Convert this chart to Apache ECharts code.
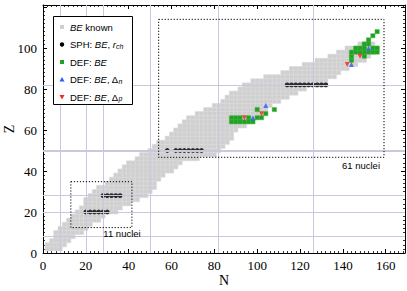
<!DOCTYPE html>
<html><head><meta charset="utf-8">
<script src="https://cdn.jsdelivr.net/npm/echarts@6/dist/echarts.min.js"></script>
<style>html,body{margin:0;padding:0;background:#fff}#c{width:407px;height:291px}</style>
</head><body><div id="c"></div><script>
// ---- data ----
const xTickStep = 20, yTickStep = 20;
const magicN = [8, 20, 28, 50, 82, 126];
const magicZ = [8, 20, 28, 50, 82];
// known binding energies (even-even), one row per Z: N range
const knownZ    = [2,4,6,8,10,12,14,16,18,20,22,24,26,28,30,32,34,36,38,40,42,44,46,48,50,52,54,56,58,60,62,64,66,68,70,72,74,76,78,80,82,84,86,88,90,92,94,96,98,100,102];
const knownNmin = [2,2,4,6,6,8,10,12,14,16,18,20,20,22,24,26,30,32,34,36,38,40,44,46,50,52,54,58,60,62,64,66,68,72,76,80,84,86,88,92,94,98,104,112,116,122,128,134,138,142,148];
const knownNmax = [8,10,12,14,18,20,22,26,28,34,36,40,44,48,50,52,52,54,56,60,62,64,72,80,82,84,86,88,88,90,94,96,98,102,104,106,110,114,118,122,132,132,136,138,142,146,150,152,154,156,154];
// spherical: BE and charge radius
const sphN = [20,22,24,26,28,30, 28,30,32,34,36, 58,62,64,66,68,70,72,74, 114,116,118,120,122,124,126,128,130,132];
const sphZ = [20,20,20,20,20,20, 28,28,28,28,28, 50,50,50,50,50,50,50,50, 82,82,82,82,82,82,82,82,82,82];
// deformed: BE
const defN = [88,90,92,94,96,98, 88,90,92,96,100,102, 104, 100,108, 144, 144,150, 144,146,148,150,152,154,156, 146,148,150,154,156, 150,152, 152, 154, 156];
const defZ = [64,64,64,64,64,64, 66,66,66,66,66,66, 68, 70,70, 94, 96,96, 98,98,98,98,98,98,98, 100,100,100,100,100, 102,102, 104, 106, 108];
// deformed: BE and neutron pairing gap
const defDnN = [98, 104, 144, 152];
const defDnZ = [66, 72, 92, 100];
// deformed: BE and proton pairing gap
const defDpN = [94, 102, 142, 148];
const defDpZ = [66, 68, 92, 96];
// dotted selection boxes (N0, Z0, N1, Z1)
const boxN0 = [13, 54];
const boxN1 = [41.5, 159.2];
const boxZ0 = [12.4, 46.7];
const boxZ1 = [34.8, 114];
const boxLabels = ['11 nuclei', '61 nuclei'];

// ---- build ----
const knownCells = [];
knownZ.forEach((z, i) => { for (let n = knownNmin[i]; n <= knownNmax[i]; n += 2) knownCells.push([n, z]); });
const zip = (a, b) => a.map((v, i) => [v, b[i]]);

function cellRender(fill, stroke) {
  return function (params, api) {
    const n = api.value(0), z = api.value(1);
    const p0 = api.coord([n - 1, z + 1]);
    const p1 = api.coord([n + 1, z - 1]);
    return { type: 'rect', shape: { x: p0[0], y: p0[1], width: p1[0] - p0[0], height: p1[1] - p0[1] },
      style: { fill: fill, stroke: stroke, lineWidth: 0.5 } };
  };
}
function boxRender(params, api) {
  const p0 = api.coord([api.value(0), api.value(3)]);
  const p1 = api.coord([api.value(2), api.value(1)]);
  return { type: 'rect', shape: { x: p0[0], y: p0[1], width: p1[0] - p0[0], height: p1[1] - p0[1] },
    style: { fill: 'none', stroke: '#000', lineWidth: 1, lineDash: [1.2, 1.8] } };
}

const serif = 'Liberation Serif';
const sans = 'Liberation Sans';
const axisCommon = {
  type: 'value', interval: xTickStep,
  axisLine: { show: true, onZero: false, lineStyle: { color: '#000', width: 1 } },
  axisTick: { show: true, inside: true, length: 4, lineStyle: { color: '#000', width: 1 } },
  minorTick: { show: true, splitNumber: 10, length: 2, lineStyle: { color: '#000', width: 0.8 } },
  splitLine: { show: false }, minorSplitLine: { show: false }
};

const chart = echarts.init(document.getElementById('c'), null, { renderer: 'svg' });
const markData = magicN.map(n => ({ xAxis: n })).concat(magicZ.map(z => ({ yAxis: z, lineStyle: { width: z === 50 ? 2 : 1 } })));

const lfs = 9.5;
const rich = {
  i: { fontFamily: sans, fontSize: lfs, fontStyle: 'italic', color: '#000' },
  s: { fontFamily: sans, fontSize: 7, fontStyle: 'italic', color: '#000', verticalAlign: 'bottom', lineHeight: 5 }
};
const legendItems = [
  '{i|BE} known',
  'SPH: {i|BE}, {i|r}{s|ch}',
  'DEF: {i|BE}',
  'DEF: {i|BE}, Δ{s|n}',
  'DEF: {i|BE}, Δ{s|p}'
];
const lx = 53, ly = 16, lrow = 17.5, ly0 = 11;
const legendGraphics = [
  { type: 'rect', left: lx, top: ly, shape: { width: 79, height: 88 }, style: { fill: '#fff', stroke: '#000', lineWidth: 1 }, z: 100 },
  { type: 'rect', x: lx + 7, y: ly + ly0 - 2, shape: { width: 4, height: 4 }, style: { fill: '#cfcfcf' }, z: 101 },
  { type: 'circle', x: lx + 9, y: ly + ly0 + lrow, shape: { r: 2.2 }, style: { fill: '#000' }, z: 101 },
  { type: 'rect', x: lx + 7, y: ly + ly0 + 2 * lrow - 2, shape: { width: 4, height: 4 }, style: { fill: '#21a121' }, z: 101 },
  { type: 'polygon', shape: { points: [[lx + 9, ly + ly0 + 3 * lrow - 2.5], [lx + 11.5, ly + ly0 + 3 * lrow + 2], [lx + 6.5, ly + ly0 + 3 * lrow + 2]] }, style: { fill: '#3355ff' }, z: 101 },
  { type: 'polygon', shape: { points: [[lx + 9, ly + ly0 + 4 * lrow + 2.5], [lx + 11.5, ly + ly0 + 4 * lrow - 2], [lx + 6.5, ly + ly0 + 4 * lrow - 2]] }, style: { fill: '#ff2222' }, z: 101 }
].concat(legendItems.map((t, k) => ({
  type: 'text', x: lx + 17, y: ly + ly0 + k * lrow, z: 101,
  style: { text: t, fontFamily: sans, fontSize: lfs, fill: '#000', verticalAlign: 'middle', rich: rich }
}))).concat([
  { type: 'text', x: 122, y: 233, z: 50, style: { text: boxLabels[0], fontFamily: sans, fontSize: 9.5, fill: '#000', align: 'center', verticalAlign: 'middle' } },
  { type: 'text', x: 361, y: 165, z: 50, style: { text: boxLabels[1], fontFamily: sans, fontSize: 9.5, fill: '#000', align: 'center', verticalAlign: 'middle' } }
]);

chart.setOption({
  animation: false,
  backgroundColor: '#fff',
  grid: { left: 43, right: 2, top: 5, bottom: 38, containLabel: false, outerBoundsMode: 'none' },
  xAxis: [
    Object.assign({}, axisCommon, { min: 0, max: 169, position: 'bottom', name: 'N', nameLocation: 'middle', nameGap: 20, nameMoveOverlap: false,
      nameTextStyle: { fontFamily: serif, fontSize: 14, color: '#000' },
      axisLabel: { show: true, margin: 6, fontFamily: serif, fontSize: 13, color: '#000', showMaxLabel: false,
        formatter: v => (v > 160 ? '' : String(v)) } }),
    Object.assign({}, axisCommon, { min: 0, max: 169, position: 'top', axisLabel: { show: false } })
  ],
  yAxis: [
    Object.assign({}, axisCommon, { interval: yTickStep, min: 0, max: 121, position: 'left', name: 'Z', nameLocation: 'middle', nameGap: 27, nameRotate: 90, nameMoveOverlap: false,
      nameTextStyle: { fontFamily: serif, fontSize: 14, color: '#000' },
      axisLabel: { show: true, margin: 6, fontFamily: serif, fontSize: 13, color: '#000', showMaxLabel: false,
        formatter: v => (v > 100 ? '' : String(v)) } }),
    Object.assign({}, axisCommon, { interval: yTickStep, min: 0, max: 121, position: 'right', axisLabel: { show: false } })
  ],
  graphic: legendGraphics,
  series: [
    { type: 'line', data: [], silent: true, z: 1,
      markLine: { silent: true, symbol: 'none', label: { show: false }, animation: false,
        lineStyle: { color: '#c8c8de', type: 'solid', width: 1 }, data: markData } },
    { type: 'custom', name: 'BE known', z: 2, clip: true, renderItem: cellRender('#cfcfcf', '#dadada'), data: knownCells },
    { type: 'custom', name: 'DEF: BE', z: 3, clip: true, renderItem: cellRender('#21a121', '#3cb43c'), data: zip(defN, defZ) },
    { type: 'scatter', name: 'SPH', z: 4, symbol: 'circle', symbolSize: 4.8, itemStyle: { color: '#000' }, data: zip(sphN, sphZ) },
    { type: 'scatter', name: 'DEF dn', z: 4, symbol: 'triangle', symbolSize: 5, itemStyle: { color: '#3355ff' }, data: zip(defDnN, defDnZ) },
    { type: 'scatter', name: 'DEF dp', z: 4, symbol: 'triangle', symbolRotate: 180, symbolSize: 5, itemStyle: { color: '#ff2222' }, data: zip(defDpN, defDpZ) },
    { type: 'custom', name: 'boxes', z: 5, clip: false, renderItem: boxRender,
      data: boxN0.map((v, i) => [v, boxZ0[i], boxN1[i], boxZ1[i]]) }
  ]
});
</script></body></html>
